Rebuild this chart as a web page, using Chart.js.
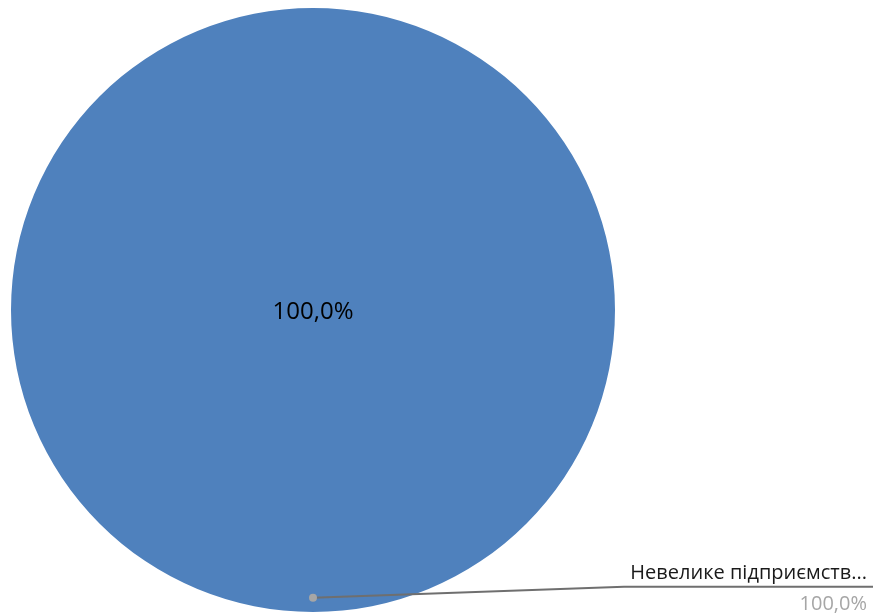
<!DOCTYPE html>
<html>
<head>
<meta charset="utf-8">
<script src="https://cdn.jsdelivr.net/npm/chart.js@4"></script>
<style>
  html, body { margin: 0; padding: 0; background: #fff; }
  #wrap { width: 885px; height: 616px; position: relative; }
</style>
</head>
<body>
<div id="wrap"><canvas id="pieChart"></canvas></div>
<script>
// chart data
const categories = ['Невелике підприємство'];
const shares = [100.0];
const sliceColors = ['#4F81BD'];

const fmtPct = v => v.toFixed(1).replace('.', ',') + '%';
const maxChars = 20;

// labels: one inside the slice, one outside with a leader line
const pieLabels = {
  id: 'pieLabels',
  afterDatasetsDraw(chart) {
    const ctx = chart.ctx;
    const meta = chart.getDatasetMeta(0);
    meta.data.forEach((arc, i) => {
      const value = shares[i];
      const r = arc.outerRadius;

      ctx.save();
      ctx.font = '24px "Open Sans", sans-serif';
      ctx.fillStyle = '#000';
      ctx.textAlign = 'center';
      ctx.textBaseline = 'middle';
      ctx.fillText(fmtPct(value), arc.x, arc.y + 2);

      // leader line from the bottom of the slice
      const px = arc.x;
      const py = arc.y + r * 0.953;
      const bendX = arc.x + r * 1.03;
      const bendY = py - 11;
      const endX = 873;
      const textRight = 867;

      ctx.strokeStyle = '#6f6f6f';
      ctx.lineWidth = 2;
      ctx.beginPath();
      ctx.moveTo(px, py);
      ctx.lineTo(bendX, bendY);
      ctx.lineTo(endX, bendY);
      ctx.stroke();

      ctx.fillStyle = '#a6a6a6';
      ctx.beginPath();
      ctx.arc(px, py, 4, 0, Math.PI * 2);
      ctx.fill();

      ctx.textAlign = 'right';
      ctx.textBaseline = 'alphabetic';
      ctx.font = '20px "Open Sans", sans-serif';
      ctx.fillStyle = '#1a1a1a';
      let name = categories[i];
      if (name.length > maxChars) name = name.slice(0, maxChars) + '...';
      ctx.fillText(name, textRight, bendY - 8);

      ctx.fillStyle = '#a6a6a6';
      ctx.fillText(fmtPct(value), textRight, bendY + 23);
      ctx.restore();
    });
  }
};

new Chart(document.getElementById('pieChart'), {
  type: 'pie',
  data: {
    labels: categories,
    datasets: [{
      data: shares,
      backgroundColor: sliceColors,
      borderWidth: 0
    }]
  },
  options: {
    responsive: true,
    maintainAspectRatio: false,
    animation: false,
    layout: { padding: { left: 11, right: 270, top: 8, bottom: 4 } },
    plugins: {
      legend: { display: false },
      tooltip: { enabled: false }
    }
  },
  plugins: [pieLabels]
});
</script>
</body>
</html>
